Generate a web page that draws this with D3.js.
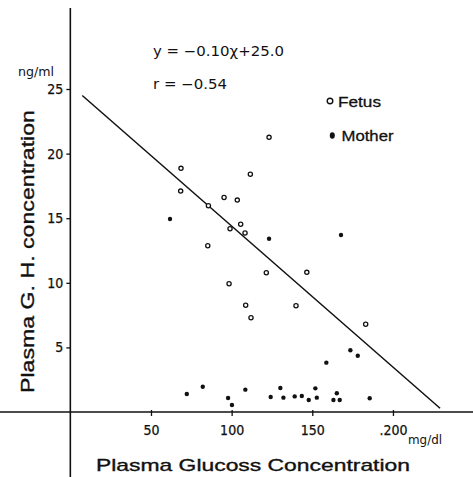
<!DOCTYPE html>
<html><head><meta charset="utf-8">
<script src="https://cdn.jsdelivr.net/npm/d3@7"></script>
<style>
body{margin:0;background:#fff;}
svg{display:block;}
.narrow{font-family:"Liberation Sans Narrow","DejaVu Sans Condensed","Liberation Sans",Arial,sans-serif;}
.sans{font-family:"Liberation Sans",Arial,sans-serif;}
</style>
</head><body>
<script>
// ---- data ----
const fetusX = [68.6, 68.4, 85.6, 95.3, 103.5, 123.2, 111.6, 105.6, 99.0, 108.3, 85.2, 98.4, 108.7, 112.0, 121.5, 146.6, 139.9, 183.1];
const fetusY = [18.86, 17.1, 15.97, 16.6, 16.4, 21.26, 18.4, 14.53, 14.19, 13.85, 12.87, 9.93, 8.26, 7.3, 10.78, 10.81, 8.23, 6.79];
const motherX = [72.2, 82.1, 97.8, 100.2, 108.5, 124.2, 130.2, 132.1, 139.1, 143.5, 147.8, 151.9, 152.8, 163.1, 165.2, 167.0, 185.6, 158.7, 173.6, 178.2, 167.8, 61.8, 123.2];
const motherY = [1.39, 1.96, 1.08, 0.54, 1.73, 1.16, 1.86, 1.11, 1.21, 1.24, 0.93, 1.83, 1.11, 0.93, 1.45, 0.93, 1.06, 3.82, 4.78, 4.36, 13.7, 14.94, 13.41];
const fitX = [7.4, 229.2];
const fitY = [24.5, 0.29];
const xTicks = [50, 100, 150, 200];
const xTickLabels = ["50", "100", "150", ".200"];
const yTicks = [5, 10, 15, 20, 25];
const yTickLabels = ["5", "10", "15", "20", "25"];
const equationText = "y = \u22120.10\u03c7+25.0";
const rText = "r = \u22120.54";

const W = 473, H = 477;
const svg = d3.select("body").append("svg").attr("width", W).attr("height", H);

const x = d3.scaleLinear().domain([-43.6, 250]).range([0, 473.6]);
const y = d3.scaleLinear().domain([-5.03, 31.27]).range([477, 8]);
const x0 = x(0), y0 = y(0);

// axes
const xAxis = d3.axisBottom(x).tickValues(xTicks).tickSizeInner(6).tickSizeOuter(0).tickFormat((d,i)=>xTickLabels[i]).tickPadding(9);
const gx = svg.append("g").attr("transform", `translate(0,${y0-2})`).call(xAxis);
gx.select(".domain").remove();
gx.selectAll(".tick line").attr("stroke","#111").attr("stroke-width",1.3);
gx.selectAll(".tick text").attr("class","narrow").attr("font-size",14).attr("fill","#111")
  .attr("stroke","#111").attr("stroke-width",0.25);

const yAxis = d3.axisLeft(y).tickValues(yTicks).tickSizeInner(4).tickSizeOuter(0).tickFormat((d,i)=>yTickLabels[i]).tickPadding(3);
const gy = svg.append("g").attr("transform", `translate(${x0},0)`).call(yAxis);
gy.select(".domain").remove();
gy.selectAll(".tick line").attr("stroke","#111").attr("stroke-width",1.3);
gy.selectAll(".tick text").attr("class","narrow").attr("font-size",14).attr("fill","#111")
  .attr("stroke","#111").attr("stroke-width",0.25);

svg.append("line").attr("x1",0).attr("x2",W).attr("y1",y0).attr("y2",y0).attr("stroke","#111").attr("stroke-width",1.6);
svg.append("line").attr("x1",x0).attr("x2",x0).attr("y1",y(31.27)).attr("y2",H).attr("stroke","#111").attr("stroke-width",1.6);

// regression line
svg.append("line").attr("x1",x(fitX[0])).attr("y1",y(fitY[0])).attr("x2",x(fitX[1])).attr("y2",y(fitY[1]))
  .attr("stroke","#111").attr("stroke-width",1.5);

// points
svg.append("g").selectAll("circle").data(fetusX).join("circle")
  .attr("cx",(d)=>x(d)).attr("cy",(d,i)=>y(fetusY[i])).attr("r",2.1)
  .attr("fill","#fff").attr("stroke","#111").attr("stroke-width",1.3);
svg.append("g").selectAll("circle").data(motherX).join("circle")
  .attr("cx",(d)=>x(d)).attr("cy",(d,i)=>y(motherY[i])).attr("r",2.2)
  .attr("fill","#111");

// texts
svg.append("text").attr("class","narrow").attr("x",153).attr("y",56).attr("font-size",14)
  .attr("textLength",131).attr("lengthAdjust","spacingAndGlyphs").attr("fill","#111").text(equationText);
svg.append("text").attr("class","narrow").attr("x",153).attr("y",89).attr("font-size",14)
  .attr("textLength",74).attr("lengthAdjust","spacingAndGlyphs").attr("fill","#111").text(rText);

// legend
svg.append("circle").attr("cx",330).attr("cy",101).attr("r",2.8).attr("fill","#fff").attr("stroke","#111").attr("stroke-width",1.4);
svg.append("text").attr("class","sans").attr("x",338).attr("y",106.5).attr("font-size",15)
  .attr("textLength",43).attr("lengthAdjust","spacingAndGlyphs").attr("fill","#111")
  .attr("stroke","#111").attr("stroke-width",0.3).text("Fetus");
svg.append("ellipse").attr("cx",332.3).attr("cy",135.5).attr("rx",2.5).attr("ry",3.2).attr("fill","#111");
svg.append("text").attr("class","sans").attr("x",341.5).attr("y",140.5).attr("font-size",15)
  .attr("textLength",52).attr("lengthAdjust","spacingAndGlyphs").attr("fill","#111")
  .attr("stroke","#111").attr("stroke-width",0.3).text("Mother");

// units
svg.append("text").attr("class","narrow").attr("x",18).attr("y",76).attr("font-size",12)
  .attr("textLength",36).attr("lengthAdjust","spacingAndGlyphs").attr("fill","#111").text("ng/ml");
svg.append("text").attr("class","narrow").attr("x",408).attr("y",444).attr("font-size",13)
  .attr("textLength",34).attr("lengthAdjust","spacingAndGlyphs").attr("fill","#111").text("mg/dl");

// axis titles
svg.append("text").attr("class","sans").attr("x",96).attr("y",471).attr("font-size",17)
  .attr("textLength",314).attr("lengthAdjust","spacingAndGlyphs").attr("fill","#111")
  .attr("stroke","#111").attr("stroke-width",0.35).text("Plasma Glucoss Concentration");
svg.append("text").attr("class","sans").attr("transform","translate(34,393) rotate(-90)").attr("x",0).attr("y",0).attr("font-size",18)
  .attr("textLength",283).attr("lengthAdjust","spacingAndGlyphs").attr("fill","#111")
  .attr("stroke","#111").attr("stroke-width",0.35).text("Plasma G. H. concentration");
</script>
</body></html>
